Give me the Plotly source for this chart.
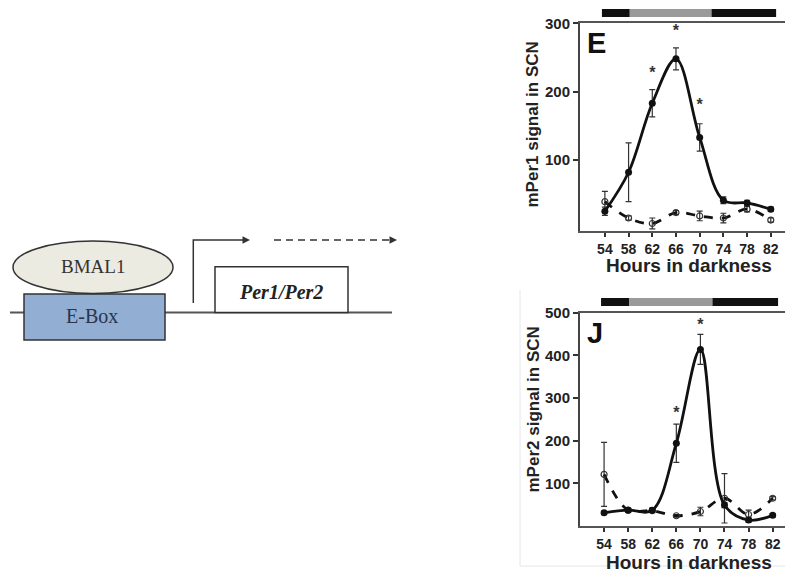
import plotly.graph_objects as go

W, H = 785, 573

# ---------------- data ----------------
hours = [54, 58, 62, 66, 70, 74, 78, 82]
hour_ticks = [54, 58, 62, 66, 70, 74, 78, 82]

per1_filled = [25, 82, 183, 248, 133, 41, 37, 28]
per1_filled_err = [6, 43, 20, 16, 20, 5, 4, 3]
per1_open = [39, 15, 7, 23, 18, 15, 28, 12]
per1_open_err = [15, 3, 8, 3, 7, 7, 4, 3]
per1_star_hours = [62, 66, 70]
per1_star_vals = [226, 287, 179]

per2_filled = [31, 37, 37, 194, 414, 49, 14, 25]
per2_filled_err = [4, 5, 5, 45, 35, 6, 5, 4]
per2_open = [121, 37, 36, 24, 34, 65, 27, 65]
per2_open_err = [75, 4, 4, 3, 10, 58, 10, 4]
per2_star_hours = [66, 70]
per2_star_vals = [262, 470]

e_ticks = [100, 200, 300]
j_ticks = [100, 200, 300, 400, 500]

# light/dark bar: segment edges (hours) and colours
phase_edges = [53.5, 58.2, 72.0, 82.9]
phase_colors = ["#111111", "#9a9a9a", "#111111"]


def px(x):
    return x / W


def py(y):
    return 1 - y / H


fig = go.Figure()

LINE_C = "#111111"


def add_panel(xa, ya, filled, ferr, opn, oerr, sh, sv):
    fig.add_trace(go.Scatter(
        x=hours, y=opn, xaxis=xa, yaxis=ya, mode="lines+markers",
        line=dict(color=LINE_C, width=2.8, dash="dash", shape="spline", smoothing=1.0),
        marker=dict(symbol="circle-open", size=6, color="#333", line=dict(width=1.2)),
        error_y=dict(type="data", array=oerr, color="#333", thickness=1.2, width=3),
        showlegend=False, hoverinfo="skip"))
    fig.add_trace(go.Scatter(
        x=hours, y=filled, xaxis=xa, yaxis=ya, mode="lines+markers",
        line=dict(color=LINE_C, width=2.8, shape="spline", smoothing=1.0),
        marker=dict(symbol="circle", size=7, color=LINE_C),
        error_y=dict(type="data", array=ferr, color="#333", thickness=1.2, width=3),
        showlegend=False, hoverinfo="skip"))
    fig.add_trace(go.Scatter(
        x=sh, y=sv, xaxis=xa, yaxis=ya, mode="text", text=["<b>*</b>"] * len(sh),
        textfont=dict(size=16, color="#333", family="Arial"), textposition="middle center",
        showlegend=False, hoverinfo="skip"))


add_panel("x", "y", per1_filled, per1_filled_err, per1_open, per1_open_err,
          per1_star_hours, per1_star_vals)
add_panel("x2", "y2", per2_filled, per2_filled_err, per2_open, per2_open_err,
          per2_star_hours, per2_star_vals)

tickfont_x = dict(family="Arial", size=14, color="#222")
tickfont_y = dict(family="Arial", size=15, color="#222")

common_x = dict(tickvals=hour_ticks, ticktext=[f"<b>{v}</b>" for v in hour_ticks],
                ticks="outside", ticklen=4, tickwidth=1.5, automargin=False,
                tickcolor="#333", showline=True, linecolor="#555", linewidth=2,
                mirror=True, showgrid=False, zeroline=False, tickfont=tickfont_x)
common_y = dict(ticks="outside", ticklen=5, tickwidth=1.5, tickcolor="#333",
                automargin=False,
                showline=True, linecolor="#444", linewidth=2, showgrid=False,
                zeroline=False, tickfont=tickfont_y)

fig.update_layout(
    template="none",
    width=W, height=H, margin=dict(l=0, r=0, t=0, b=0, pad=0, autoexpand=False),
    paper_bgcolor="white", plot_bgcolor="white",
    xaxis=dict(domain=[px(580), 1.0], anchor="y", range=[49.8, 84.4], **common_x),
    yaxis=dict(domain=[py(231), py(23)], anchor="x", range=[-4, 300.5],
               tickvals=e_ticks, ticktext=[f"<b>{v}</b>" for v in e_ticks], **common_y),
    xaxis2=dict(domain=[px(580), 1.0], anchor="y2", range=[50, 84.05], **common_x),
    yaxis2=dict(domain=[py(526), py(312.7)], anchor="x2", range=[0, 500],
                tickvals=j_ticks, ticktext=[f"<b>{v}</b>" for v in j_ticks], **common_y),
)

shapes = []
# light/dark bars above each panel
for xr, ybar in (("x", 13), ("x2", 302)):
    for i, c in enumerate(phase_colors):
        shapes.append(dict(type="rect", xref=xr, yref="paper",
                           x0=phase_edges[i], x1=phase_edges[i + 1],
                           y0=py(ybar + 4), y1=py(ybar - 4),
                           fillcolor=c, line=dict(width=0), layer="above"))

# faint frame around lower panel
shapes.append(dict(type="line", xref="paper", yref="paper", x0=px(520), x1=px(520),
                   y0=py(290), y1=py(566), line=dict(color="#e6e6e6", width=1)))
shapes.append(dict(type="line", xref="paper", yref="paper", x0=px(520), x1=1,
                   y0=py(566), y1=py(566), line=dict(color="#e6e6e6", width=1)))

# ---- gene diagram ----
shapes.append(dict(type="line", xref="paper", yref="paper", x0=px(10), x1=px(392),
                   y0=py(312.5), y1=py(312.5), line=dict(color="#555", width=2)))
shapes.append(dict(type="rect", xref="paper", yref="paper", x0=px(24), x1=px(165),
                   y0=py(340), y1=py(294), fillcolor="#92aed2",
                   line=dict(color="#333", width=1.5)))
shapes.append(dict(type="circle", xref="paper", yref="paper", x0=px(13), x1=px(173),
                   y0=py(293.5), y1=py(241), fillcolor="#ecebe2",
                   line=dict(color="#333", width=1.5)))
shapes.append(dict(type="rect", xref="paper", yref="paper", x0=px(215), x1=px(348),
                   y0=py(312.5), y1=py(266.7), fillcolor="white",
                   line=dict(color="#333", width=1.5)))
# transcription start arrow
shapes.append(dict(type="path", xref="paper", yref="paper",
                   path=f"M {px(193.3)},{py(303)} L {px(193.3)},{py(240)} L {px(244)},{py(240)}",
                   line=dict(color="#333", width=1.5)))
shapes.append(dict(type="line", xref="paper", yref="paper", x0=px(274), x1=px(390),
                   y0=py(240), y1=py(240), line=dict(color="#333", width=1.5, dash="7px,5px")))
fig.update_layout(shapes=shapes)


def label(x, y, text, size, color="#222", family="Arial", angle=0):
    return dict(x=px(x), y=py(y), xref="paper", yref="paper", text=text, showarrow=False,
                xanchor="center", yanchor="middle", textangle=angle,
                font=dict(family=family, size=size, color=color))


annotations = [
    dict(x=px(250), y=py(240), ax=-8, ay=0, xref="paper", yref="paper",
         showarrow=True, arrowhead=2, arrowsize=1,
         arrowwidth=1.5, arrowcolor="#333", text=""),
    dict(x=px(397), y=py(240), ax=-8, ay=0, xref="paper", yref="paper",
         showarrow=True, arrowhead=2, arrowsize=1,
         arrowwidth=1.5, arrowcolor="#333", text=""),
    label(93, 266, "BMAL1", 19, "#333", "Liberation Serif"),
    label(92, 316, "E-Box", 20, "#2a3550", "Liberation Serif"),
    label(281, 292, "<b><i>Per1/Per2</i></b>", 20, "#222", "Liberation Serif"),
    # panel letters
    label(596, 43, "<b>E</b>", 29, "#111"),
    label(595, 333, "<b>J</b>", 29, "#111"),
    # axis titles
    label(532, 124.5, "<b>mPer1 signal in SCN</b>", 17, angle=-90),
    label(533, 409.5, "<b>mPer2 signal in SCN</b>", 17, angle=-90),
    label(689, 265, "<b>Hours in darkness</b>", 19),
    label(689, 562, "<b>Hours in darkness</b>", 19),
]
fig.update_layout(annotations=annotations)

post = ("document.body.style.margin='0';document.body.style.overflow='hidden';"
        "var gd=document.getElementById('{plot_id}');"
        "gd.style.position='fixed';gd.style.top='0px';gd.style.left='0px';")
fig.write_html("out.html", config={"displayModeBar": False}, post_script=post)
